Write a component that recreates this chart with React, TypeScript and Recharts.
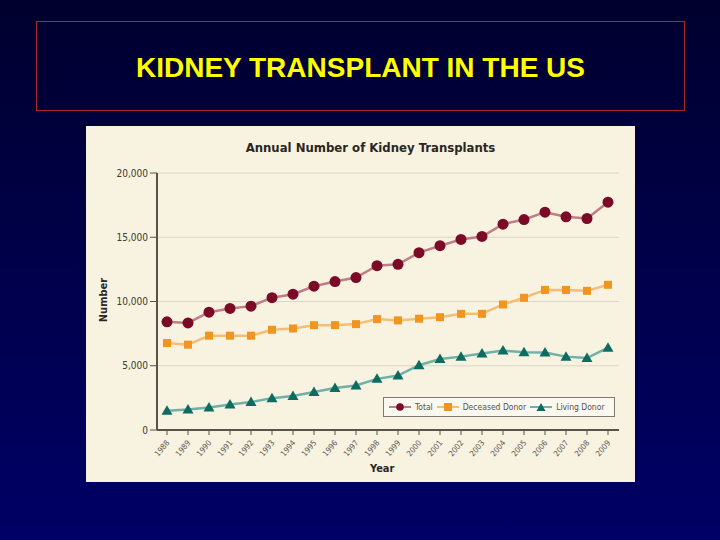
import React from 'react';
import {
  LineChart,
  Line,
  XAxis,
  YAxis,
  CartesianGrid,
} from 'recharts';

const years = [
  '1988', '1989', '1990', '1991', '1992', '1993', '1994', '1995', '1996', '1997', '1998',
  '1999', '2000', '2001', '2002', '2003', '2004', '2005', '2006', '2007', '2008', '2009',
];

const total = [
  8420, 8330, 9170, 9460, 9640, 10300, 10570, 11190, 11550, 11860, 12790,
  12890, 13800, 14340, 14830, 15060, 16020, 16380, 16950, 16590, 16460, 17730,
];

const deceased = [
  6770, 6640, 7340, 7340, 7340, 7800, 7900, 8160, 8160, 8240, 8630,
  8530, 8660, 8780, 9040, 9040, 9770, 10290, 10900, 10900, 10830, 11300,
];

const living = [
  1500, 1600, 1760, 1990, 2170, 2480, 2640, 2950, 3260, 3460, 3980,
  4240, 5040, 5530, 5710, 5950, 6180, 6050, 6030, 5710, 5600, 6410,
];

const yTicks = [0, 5000, 10000, 15000, 20000];

const data = years.map((year, i) => ({
  year,
  total: total[i],
  deceased: deceased[i],
  living: living[i],
}));

const FONT = '"Liberation Sans Narrow", "DejaVu Sans Condensed", "Roboto", sans-serif';

const MAROON = '#7a0a26';
const MAROON_LINE = '#c07d86';
const ORANGE = '#f0951f';
const ORANGE_LINE = '#f6bd73';
const TEAL = '#0d6b5f';
const TEAL_LINE = '#6fb0a8';

const CircleDot = (props: any) => {
  const { cx, cy, index } = props;
  if (cx == null || cy == null) return null;
  return <circle key={index} cx={cx} cy={cy} r={5.5} fill={MAROON} />;
};

const SquareDot = (props: any) => {
  const { cx, cy, index } = props;
  if (cx == null || cy == null) return null;
  return <rect key={index} x={cx - 4} y={cy - 4} width={8} height={8} fill={ORANGE} />;
};

const TriangleDot = (props: any) => {
  const { cx, cy, index } = props;
  if (cx == null || cy == null) return null;
  return (
    <polygon
      key={index}
      points={`${cx},${cy - 5.5} ${cx + 5.5},${cy + 4} ${cx - 5.5},${cy + 4}`}
      fill={TEAL}
    />
  );
};

const YearTick = (props: any) => {
  const { x, y, payload } = props;
  return (
    <text
      x={x + 3}
      y={y + 6}
      transform={`rotate(-50 ${x + 3} ${y + 6})`}
      textAnchor="end"
      fontSize={8}
      fill="#5a5550"
      fontFamily={FONT}
    >
      {payload.value}
    </text>
  );
};

const legendItems = [
  { label: 'Total', line: MAROON_LINE, marker: 'circle', color: MAROON },
  { label: 'Deceased Donor', line: ORANGE_LINE, marker: 'square', color: ORANGE },
  { label: 'Living Donor', line: TEAL_LINE, marker: 'triangle', color: TEAL },
];

const LegendBox = () => (
  <div
    style={{
      position: 'absolute',
      left: 297,
      top: 271,
      width: 232,
      height: 20,
      display: 'flex',
      alignItems: 'center',
      border: '1.5px solid #7d7a74',
      background: '#fbf8ef',
      fontFamily: FONT,
      fontSize: 8.5,
      color: '#55524d',
      paddingLeft: 5,
      boxSizing: 'border-box',
      whiteSpace: 'nowrap',
      zIndex: 2,
    }}
  >
    {legendItems.map((it) => (
      <div key={it.label} style={{ display: 'flex', alignItems: 'center', marginRight: 4 }}>
        <svg width={22} height={10} style={{ marginRight: 4 }}>
          <line x1={0} y1={5} x2={22} y2={5} stroke={it.line} strokeWidth={2} />
          {it.marker === 'circle' && <circle cx={11} cy={5} r={3.8} fill={it.color} />}
          {it.marker === 'square' && <rect x={7} y={1} width={8} height={8} fill={it.color} />}
          {it.marker === 'triangle' && (
            <polygon points="11,1 15.5,9 6.5,9" fill={it.color} />
          )}
        </svg>
        <span>{it.label}</span>
      </div>
    ))}
  </div>
);

export default function App() {
  return (
    <div
      style={{
        position: 'absolute',
        left: 0,
        top: 0,
        width: 720,
        height: 540,
        background: 'linear-gradient(to bottom, #00002e 0%, #000048 45%, #000066 100%)',
        overflow: 'hidden',
      }}
    >
      <div
        style={{
          position: 'absolute',
          left: 36,
          top: 21,
          width: 649,
          height: 90,
          border: '1px solid #b0242c',
          boxSizing: 'border-box',
          display: 'flex',
          alignItems: 'center',
          justifyContent: 'center',
          paddingTop: 4,
          color: '#ffff00',
          fontFamily: '"Liberation Sans", Arial, sans-serif',
          fontWeight: 'bold',
          fontSize: 28,
        }}
      >
        KIDNEY TRANSPLANT IN THE US
      </div>

      <div
        style={{
          position: 'absolute',
          left: 86,
          top: 126,
          width: 549,
          height: 356,
          background: '#f8f2e1',
        }}
      >
        <div
          style={{
            position: 'absolute',
            left: 0,
            top: 14,
            width: 569,
            textAlign: 'center',
            fontFamily: FONT,
            fontWeight: 'bold',
            fontSize: 13,
            color: '#2a2622',
          }}
        >
          Annual Number of Kidney Transplants
        </div>
        <div
          style={{
            position: 'absolute',
            left: 284,
            top: 336,
            fontFamily: FONT,
            fontWeight: 'bold',
            fontSize: 11,
            color: '#2a2622',
          }}
        >
          Year
        </div>
        <div
          style={{
            position: 'absolute',
            left: 17,
            top: 174,
            transform: 'translate(-50%, -50%) rotate(-90deg)',
            fontFamily: FONT,
            fontWeight: 'bold',
            fontSize: 11,
            color: '#2a2622',
          }}
        >
          Number
        </div>
        <LegendBox />
        <LineChart
          width={549}
          height={356}
          data={data}
          margin={{ top: 47, right: 16, left: 0, bottom: 0 }}
        >
          <CartesianGrid vertical={false} stroke="#dcd6c6" strokeWidth={1.2} />
          <XAxis
            dataKey="year"
            padding={{ left: 10, right: 11 }}
            interval={0}
            tick={<YearTick />}
            tickLine={{ stroke: '#5a5148', strokeWidth: 1 }}
            tickSize={5}
            axisLine={{ stroke: '#5a5148', strokeWidth: 2 }}
            height={52}
          />
          <YAxis
            domain={[0, 20000]}
            ticks={yTicks}
            width={71}
            tickFormatter={(v: number) => v.toLocaleString('en-US')}
            tick={{ fontSize: 10, fill: '#3d3934', fontFamily: FONT }}
            tickLine={{ stroke: '#5a5148', strokeWidth: 1 }}
            tickSize={7}
            axisLine={{ stroke: '#5a5148', strokeWidth: 2 }}
          />
          <Line
            dataKey="total"
            stroke={MAROON_LINE}
            strokeWidth={2.5}
            dot={<CircleDot />}
            activeDot={false}
            isAnimationActive={false}
          />
          <Line
            dataKey="deceased"
            stroke={ORANGE_LINE}
            strokeWidth={2.5}
            dot={<SquareDot />}
            activeDot={false}
            isAnimationActive={false}
          />
          <Line
            dataKey="living"
            stroke={TEAL_LINE}
            strokeWidth={2.5}
            dot={<TriangleDot />}
            activeDot={false}
            isAnimationActive={false}
          />
        </LineChart>
      </div>
    </div>
  );
}
